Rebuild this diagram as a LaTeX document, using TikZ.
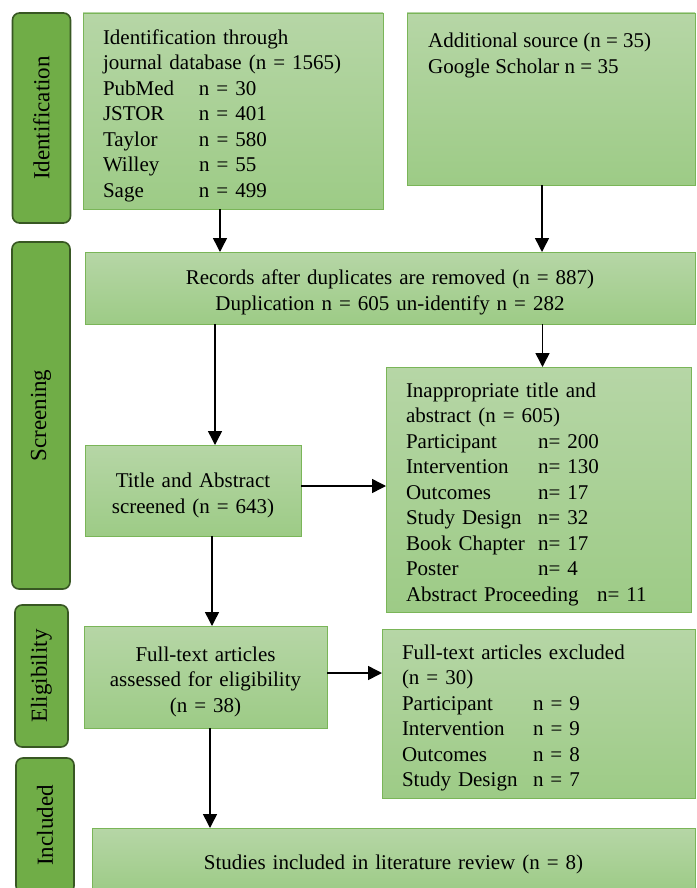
\documentclass[tikz,border=0pt]{standalone}
\usepackage{fontspec}
\setmainfont{Liberation Serif}
\usetikzlibrary{arrows.meta}
\definecolor{boxtop}{RGB}{182,214,166}
\definecolor{boxbot}{RGB}{157,203,134}
\definecolor{boxline}{RGB}{122,181,88}
\definecolor{stagefill}{RGB}{112,173,71}
\definecolor{stageline}{RGB}{56,87,35}
\tikzset{
  box/.style={draw=boxline, line width=0.9pt, top color=boxtop, bottom color=boxbot,
    anchor=north west, inner xsep=20pt, inner ysep=0pt, outer sep=0pt,
    font=\fontsize{21}{25.5}\selectfont, execute at begin node=\rule{0pt}{24pt}},
  stage/.style={draw=stageline, line width=1.6pt, fill=stagefill, rounded corners=7pt,
    rotate=90, inner sep=0pt, font=\fontsize{23}{24}\selectfont},
  arr/.style={-{Triangle[length=14pt,width=14pt]}, line width=1.5pt}
}
\begin{document}
\begin{tikzpicture}[x=1pt,y=-1pt]
\useasboundingbox (0,0) rectangle (696,888);
% stage labels on the left
\node[stage, minimum width=210pt, minimum height=58pt] (sident) at (41.5,118) {Identification};
\node[stage, minimum width=347pt, minimum height=58pt] (sscreen) at (41,415.5) {Screening};
\node[stage, minimum width=142pt, minimum height=53pt] (selig) at (41.5,676) {Eligibility};
\node[stage, minimum width=135pt, minimum height=58pt] (sincl) at (45,825.5) {Included};
% identification
\node[box, minimum width=300pt, minimum height=196pt, text width=260pt, align=left] (ident) at (83,13)
  {Identification through\\ journal database (n = 1565)\\
   \makebox[96pt][l]{PubMed}n = 30\\
   \makebox[96pt][l]{JSTOR}n = 401\\
   \makebox[96pt][l]{Taylor}n = 580\\
   \makebox[96pt][l]{Willey}n = 55\\
   \makebox[96pt][l]{Sage}n = 499};
\node[box, minimum width=288pt, minimum height=172pt] (addl) at (407,13) {};
\node[anchor=north west, inner sep=0pt, align=left, font=\fontsize{21}{25.5}\selectfont] (addltxt) at (428,33)
  {Additional source (n = 35)\\ Google Scholar n = 35};
% screening
\node[box, minimum width=610pt, minimum height=72pt, text width=570pt, align=center] (recs) at (85,252)
  {Records after duplicates are removed (n = 887)\\ Duplication n = 605 un-identify n = 282};
\node[box, minimum width=216pt, minimum height=91pt, text width=176pt, align=center] (title) at (85,445)
  {Title and Abstract\\ screened (n = 643)};
\node[box, minimum width=305pt, minimum height=245pt, text width=265pt, align=left] (inapp) at (386,367)
  {Inappropriate title and\\ abstract (n = 605)\\
   \makebox[132pt][l]{Participant}n= 200\\
   \makebox[132pt][l]{Intervention}n= 130\\
   \makebox[132pt][l]{Outcomes}n= 17\\
   \makebox[132pt][l]{Study Design}n= 32\\
   \makebox[132pt][l]{Book Chapter}n= 17\\
   \makebox[132pt][l]{Poster}n= 4\\
   \makebox[191pt][l]{Abstract Proceeding}n= 11};
% eligibility
\node[box, minimum width=243pt, minimum height=102pt, text width=203pt, align=center] (full) at (84,626)
  {Full-text articles\\ assessed for eligibility\\ (n = 38)};
\node[box, minimum width=313pt, minimum height=169pt, text width=273pt, align=left] (excl) at (382,629)
  {Full-text articles excluded\\ (n = 30)\\
   \makebox[131pt][l]{Participant}n = 9\\
   \makebox[131pt][l]{Intervention}n = 9\\
   \makebox[131pt][l]{Outcomes}n = 8\\
   \makebox[131pt][l]{Study Design}n = 7};
% included
\node[box, minimum width=603pt, minimum height=64pt, text width=563pt, align=center] (incl) at (92,828)
  {Studies included in literature review (n = 8)};
% arrows
\draw[arr] ([xshift=-13pt]ident.south) -- ([xshift=-13pt]ident.south |- recs.north);
\draw[arr] ([xshift=-9pt]addl.south) -- ([xshift=-9pt]addl.south |- recs.north);
\draw[arr] ([xshift=22pt]title.north |- recs.south) -- ([xshift=22pt]title.north);
\draw[arr] ([xshift=4pt]inapp.north |- recs.south) -- ([xshift=4pt]inapp.north);
\draw[arr] ([yshift=4.5pt]title.east) -- ([yshift=4.5pt]title.east -| inapp.west);
\draw[arr] ([xshift=19pt]title.south) -- ([xshift=19pt]title.south |- full.north);
\draw[arr] ([yshift=4pt]full.east) -- ([yshift=4pt]full.east -| excl.west);
\draw[arr] ([xshift=4.5pt]full.south) -- ([xshift=4.5pt]full.south |- incl.north);
\end{tikzpicture}
\end{document}
